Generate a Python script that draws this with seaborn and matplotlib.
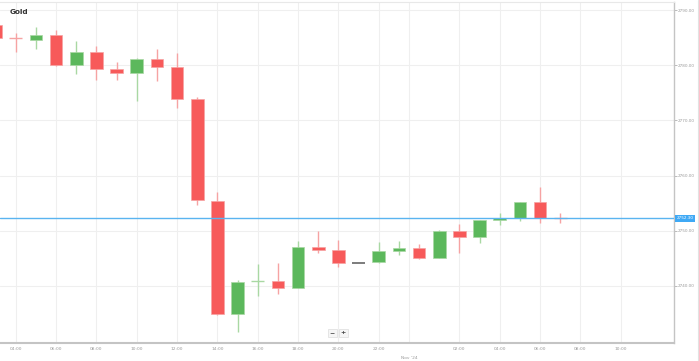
import numpy as np
import pandas as pd
import seaborn as sns
import matplotlib.pyplot as plt
from matplotlib.lines import Line2D
from matplotlib.transforms import blended_transform_factory

# hourly gold candles, hour 0 = 31 Oct 00:00
hours = list(range(3, 32))
opens = [2787.3, 2784.85, 2784.6, 2785.45, 2780.05, 2782.35, 2779.4, 2778.5, 2781.2, 2779.75,
         2773.95, 2755.45, 2734.85, 2740.85, 2740.9, 2739.7, 2747.15, 2746.6, 2744.2, 2744.4,
         2746.3, 2746.95, 2745.1, 2749.9, 2748.9, 2751.95, 2752.3, 2755.15, 2752.3]
highs = [2787.6, 2785.8, 2786.95, 2786.4, 2784.4, 2783.45, 2780.6, 2781.3, 2783.0, 2782.3,
         2774.2, 2757.1, 2741.0, 2743.95, 2744.1, 2748.2, 2749.9, 2748.4, 2744.2, 2747.9,
         2748.2, 2747.6, 2750.2, 2751.2, 2752.0, 2753.2, 2755.3, 2757.9, 2753.3]
lows = [2784.6, 2782.4, 2782.9, 2779.9, 2778.4, 2777.3, 2777.4, 2773.6, 2777.1, 2772.2,
        2754.7, 2734.8, 2731.7, 2738.2, 2738.5, 2739.6, 2745.9, 2743.5, 2744.2, 2744.2,
        2745.6, 2744.95, 2745.0, 2746.05, 2747.7, 2751.1, 2751.8, 2751.5, 2751.4]
closes = [2784.9, 2784.85, 2785.45, 2780.0, 2782.35, 2779.3, 2778.5, 2781.2, 2779.7, 2773.9,
          2755.6, 2734.85, 2740.8, 2740.85, 2739.7, 2747.15, 2746.6, 2744.1, 2744.2, 2746.25,
          2746.85, 2745.15, 2749.9, 2748.85, 2752.0, 2752.3, 2755.15, 2752.35, 2752.3]
last_price = 2752.30

tick_hours = [4, 6, 8, 10, 12, 14, 16, 18, 20, 22, 23.5, 26, 28, 30, 32, 34]
tick_labels = ["04:00", "06:00", "08:00", "10:00", "12:00", "14:00", "16:00", "18:00",
               "20:00", "22:00", "", "02:00", "04:00", "06:00", "08:00", "10:00"]
day_label = "Nov '24"
y_ticks = [2740, 2750, 2760, 2770, 2780, 2790]

df = pd.DataFrame({"hour": hours, "open": opens, "high": highs, "low": lows, "close": closes})
df["prev"] = df["close"].shift(1).fillna(df["open"])

RED, GREEN = "#f75a5a", "#5cb85c"
RED_W, GREEN_W = "#f6a3a3", "#a9d8a3"

sns.set_style("whitegrid", {"grid.color": "#efefef", "axes.edgecolor": "#c4c4c4"})
plt.rcParams["font.family"] = ["DejaVu Sans"]

fig = plt.figure(figsize=(6.99, 3.61), dpi=100)
ax = fig.add_axes([0, 18 / 361, 674 / 699, 341 / 361])

w = 0.63
for _, r in df.iterrows():
    if r["high"] == r["low"]:
        ax.hlines(r["close"], r["hour"] - w / 2, r["hour"] + w / 2, color="#666666", lw=1.2, zorder=3)
        continue
    if r["close"] == r["open"]:
        up = r["close"] >= r["prev"]
    else:
        up = r["close"] > r["open"]
    body, wick = (GREEN, GREEN_W) if up else (RED, RED_W)
    ax.vlines(r["hour"], r["low"], r["high"], color=wick, lw=1, zorder=2)
    if r["close"] == r["open"]:
        ax.hlines(r["close"], r["hour"] - w / 2, r["hour"] + w / 2, color=wick, lw=1, zorder=3)
    else:
        lo = min(r["open"], r["close"])
        ax.bar(r["hour"], abs(r["close"] - r["open"]), bottom=lo, width=w,
               color=body, edgecolor=wick, linewidth=0.5, zorder=3)

ax.axhline(last_price, color="#5ab4f0", lw=1, zorder=4)

ax.set_xlim(3.22, 36.64)
ax.set_ylim(2729.67, 2791.45)
ax.set_xticks(tick_hours)
ax.set_xticklabels(tick_labels)
ax.set_yticks(y_ticks)
ax.set_yticklabels([f"{v:.2f}" for v in y_ticks])
ax.yaxis.tick_right()
ax.tick_params(axis="both", labelsize=3.2, labelcolor="#9a9a9a", colors="#b0b0b0",
               length=2, width=0.6, pad=1)
ax.tick_params(axis="y", labelsize=3.0)
ax.grid(True, color="#efefef", lw=0.8)

for s in ["left"]:
    ax.spines[s].set_visible(False)
ax.spines["top"].set_color("#e8e8e8")
ax.spines["top"].set_linewidth(0.8)
ax.spines["right"].set_color("#c4c4c4")
ax.spines["right"].set_linewidth(1)
ax.spines["bottom"].set_color("#c4c4c4")
ax.spines["bottom"].set_linewidth(1.5)

trans = blended_transform_factory(ax.transData, ax.transAxes)
ax.text(23.5, -0.038, day_label, transform=trans, ha="center", va="top",
        fontsize=3.2, color="#9a9a9a", clip_on=False)

# price tag on the right axis
ax.text(1.004, (last_price - 2729.67) / (2791.45 - 2729.67), f"{last_price:.2f}",
        transform=ax.transAxes, ha="left", va="center", fontsize=3.0, color="white",
        bbox=dict(boxstyle="square,pad=0.35", fc="#3fa9f5", ec="none"), clip_on=False)

ax.text(10 / 674, 1 - 10.5 / 341, "Gold", transform=ax.transAxes, ha="left", va="center",
        fontsize=5.2, fontweight="bold", color="#333333")

# zoom buttons
for xf, s in [(332 / 674, "\u2212"), (343 / 674, "+")]:
    ax.text(xf, 10 / 341, s, transform=ax.transAxes, ha="center", va="center",
            fontsize=4.5, fontweight="bold", color="#444444",
            bbox=dict(boxstyle="square,pad=0.3", fc="#f6f6f6", ec="#dddddd", lw=0.5))

fig.add_artist(Line2D([697.5 / 699, 697.5 / 699], [0, 1], color="#e2e2e2", lw=0.8))

fig.savefig("out.png", dpi=100)
